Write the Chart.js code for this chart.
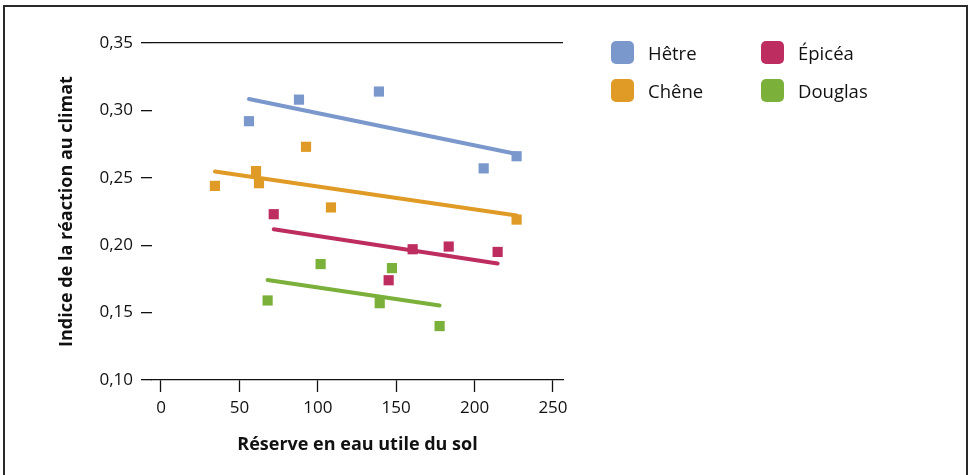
<!DOCTYPE html>
<html lang="fr">
<head>
<meta charset="utf-8">
<script src="https://cdn.jsdelivr.net/npm/chart.js@4.4.1/dist/chart.umd.min.js"></script>
<style>
  html, body { margin: 0; padding: 0; background: #fff; overflow: hidden; }
  #wrap { position: relative; width: 970px; height: 475px; }
  #chart { position: absolute; left: 0; top: 0; }
  #frame {
    position: absolute; left: 3px; top: 5px; width: 965px; height: 490px;
    box-sizing: border-box; border: 2px solid #2a2a2a; border-bottom: none;
  }
  .leg { position: absolute; display: flex; align-items: center; height: 23px;
    font-family: "Open Sans", sans-serif; font-size: 18.5px; color: #111; }
  .leg span.box { width: 23px; height: 23px; border-radius: 5px; margin-right: 14px; }
</style>
</head>
<body>
<div id="wrap">
  <div id="frame"></div>
  <canvas id="chart" width="970" height="475"></canvas>
</div>
<script>
// Séries
const species = ['Hêtre', 'Chêne', 'Épicéa', 'Douglas'];
const colors = ['#7b98cd', '#e09b26', '#be2d5f', '#7bb03b'];

const hetreX = [56.1, 88.0, 139.0, 205.8, 226.8];
const hetreY = [0.292, 0.308, 0.314, 0.257, 0.266];
const cheneX = [34.4, 60.6, 62.5, 92.5, 108.4, 226.8];
const cheneY = [0.244, 0.255, 0.246, 0.273, 0.228, 0.219];
const epiceaX = [71.9, 145.2, 160.5, 183.5, 214.7];
const epiceaY = [0.223, 0.174, 0.197, 0.199, 0.195];
const douglasX = [68.0, 101.8, 139.5, 147.3, 177.7];
const douglasY = [0.159, 0.186, 0.157, 0.183, 0.140];

// Droites de tendance (début, fin)
const hetreTrendX = [56.1, 226.8];
const hetreTrendY = [0.3084, 0.2676];
const cheneTrendX = [34.4, 226.8];
const cheneTrendY = [0.2547, 0.2220];
const epiceaTrendX = [71.9, 214.7];
const epiceaTrendY = [0.2118, 0.1865];
const douglasTrendX = [68.0, 177.7];
const douglasTrendY = [0.1742, 0.1553];

const xTicks = [0, 50, 100, 150, 200, 250];
const yTicks = [0.10, 0.15, 0.20, 0.25, 0.30, 0.35];

const pointsX = [hetreX, cheneX, epiceaX, douglasX];
const pointsY = [hetreY, cheneY, epiceaY, douglasY];
const trendsX = [hetreTrendX, cheneTrendX, epiceaTrendX, douglasTrendX];
const trendsY = [hetreTrendY, cheneTrendY, epiceaTrendY, douglasTrendY];

function toXY(xs, ys) {
    return xs.map((x, i) => ({ x: x, y: ys[i] }));
}

const datasets = [];
species.forEach((name, i) => {
    datasets.push({
        label: name,
        data: toXY(trendsX[i], trendsY[i]),
        showLine: true,
        borderColor: colors[i],
        borderWidth: 4,
        borderCapStyle: 'round',
        pointRadius: 0,
        order: 2
    });
    datasets.push({
        label: name,
        data: toXY(pointsX[i], pointsY[i]),
        pointStyle: 'rect',
        pointRadius: 7.2,
        pointBorderWidth: 0,
        backgroundColor: colors[i],
        borderColor: colors[i],
        order: 1
    });
});

const tickFont = { family: '"Open Sans", sans-serif', size: 17 };
const titleFont = { family: '"Open Sans", sans-serif', size: 18, weight: 'bold' };

new Chart(document.getElementById('chart'), {
    type: 'scatter',
    data: { datasets: datasets },
    options: {
        responsive: false,
        animation: false,
        layout: { padding: { left: 0, top: 43, right: 407, bottom: 0 } },
        plugins: {
            legend: { display: false },
            tooltip: { enabled: false }
        },
        scales: {
            x: {
                type: 'linear',
                min: -5.74,
                max: 256.4,
                afterBuildTicks: function (scale) {
                    scale.ticks = xTicks.map(v => ({ value: v }));
                },
                afterFit: function (scale) { scale.height = 95; },
                border: { display: true, color: '#111', width: 1.3 },
                grid: { drawOnChartArea: false, drawTicks: true, tickLength: 12, tickColor: '#111', tickWidth: 1.3 },
                ticks: { color: '#111', font: tickFont, padding: 6, maxRotation: 0 },
                title: {
                    display: true, text: 'Réserve en eau utile du sol',
                    color: '#111', font: titleFont, padding: { top: 0, bottom: 19 }
                }
            },
            y: {
                type: 'linear',
                min: 0.10,
                max: 0.35,
                afterBuildTicks: function (scale) {
                    scale.ticks = yTicks.map(v => ({ value: v }));
                },
                afterFit: function (scale) { scale.width = 152; },
                border: { display: false },
                grid: {
                    drawOnChartArea: true,
                    color: ctx => (ctx.tick && Math.abs(ctx.tick.value - 0.35) < 1e-9) ? '#111' : 'rgba(0,0,0,0)',
                    lineWidth: 1.3,
                    drawTicks: true,
                    tickLength: 11,
                    tickColor: '#111',
                    tickWidth: 1.3
                },
                ticks: {
                    color: '#111', font: tickFont, padding: 8,
                    callback: v => v.toFixed(2).replace('.', ',')
                },
                title: {
                    display: true, text: 'Indice de la réaction au climat',
                    color: '#111', font: titleFont, padding: { top: 56, bottom: 0 }
                }
            }
        }
    }
});

// Légende en deux colonnes
const legendLeft = [611, 611, 761, 761];
const legendTop = [41, 79, 41, 79];
const wrap = document.getElementById('wrap');
species.forEach((name, i) => {
    const item = document.createElement('div');
    item.className = 'leg';
    item.style.left = legendLeft[i] + 'px';
    item.style.top = legendTop[i] + 'px';
    const box = document.createElement('span');
    box.className = 'box';
    box.style.background = colors[i];
    const txt = document.createElement('span');
    txt.textContent = name;
    item.appendChild(box);
    item.appendChild(txt);
    wrap.appendChild(item);
});
</script>
</body>
</html>
